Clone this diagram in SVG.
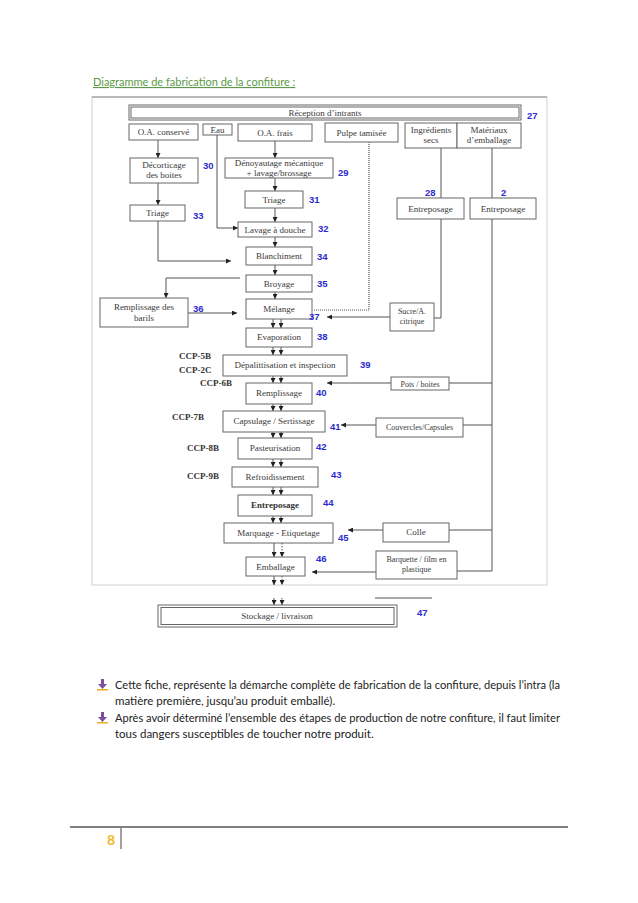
<svg xmlns="http://www.w3.org/2000/svg" width="638" height="903" viewBox="0 0 638 903">
<style>
.bx{fill:#fff;stroke:#666;stroke-width:1}
.t{font-family:"Liberation Serif",serif;font-size:9px;fill:#3a3a3a;text-anchor:middle}
.s{font-size:8px}
.tb{font-family:"Liberation Serif",serif;font-size:9px;fill:#333;text-anchor:middle;font-weight:bold}
.ccp{font-family:"Liberation Serif",serif;font-size:9px;fill:#333;font-weight:bold}
.n{font-family:"Liberation Sans",sans-serif;font-size:9.5px;fill:#2b2bd0;font-weight:bold}
.ln{fill:none;stroke:#555;stroke-width:1}
.ar{fill:none;stroke:#555;stroke-width:1;marker-end:url(#ah)}
.dot{fill:none;stroke:#555;stroke-width:1.2;stroke-dasharray:1 1}
.body{font-family:Lato,"Open Sans",sans-serif;font-size:11.5px;fill:#222}
</style>
<defs>
<marker id="ah" markerUnits="userSpaceOnUse" markerWidth="5" markerHeight="5" refX="5" refY="2.5" orient="auto">
<path d="M0,0 L5,2.5 L0,5 z" fill="#222"/>
</marker>
</defs>
<rect width="638" height="903" fill="#fff"/>
<text x="93" y="86" font-family="Lato,'Open Sans',sans-serif" font-size="11px" fill="#5b9a47" text-decoration="underline">Diagramme de fabrication de la confiture :</text>
<rect x="92" y="97" width="455" height="488" fill="none" stroke="#cfcfcf" stroke-width="1"/>
<line x1="92" y1="97" x2="547" y2="97" stroke="#aaa" stroke-width="1.5"/>

<g id="connectors">
<path class="ar" d="M158,140 V158"/>
<path class="ar" d="M158,183 V205"/>
<path class="ar" d="M275,141 V158"/>
<path class="ar" d="M275,178 V191"/>
<path class="ar" d="M275,208 V222"/>
<path class="ar" d="M217,135 V228 H238"/>
<path class="ar" d="M158,221 V261 H231"/>
<path class="ar" d="M275,237 V247"/>
<path class="ar" d="M275,265 V275"/>
<path class="ar" d="M240,278 H166 V298"/>
<path class="ar" d="M188,313 H237"/>
<path class="ar" d="M275,292 V299"/>
<path class="dot" d="M369,142 V310 H313"/>
<path class="ln" d="M441,148 V198"/>
<path class="ln" d="M492,148 V198"/>
<path class="ln" d="M441,219 V318 H434"/>
<path class="ln" d="M492,219 V571 H457"/>
<path class="ar" d="M390,317 H327"/>
<path class="ar" d="M273,319 V328"/><path class="ar" d="M281,319 V328"/>
<path class="ar" d="M273,347 V355"/><path class="ar" d="M281,347 V355"/>
<path class="ar" d="M273,376 V383"/><path class="ar" d="M281,376 V383"/>
<path class="ar" d="M273,404 V411"/><path class="ar" d="M281,404 V411"/>
<path class="ar" d="M273,432 V438"/><path class="ar" d="M281,432 V438"/>
<path class="ar" d="M273,459 V467"/><path class="ar" d="M281,459 V467"/>
<path class="ar" d="M273,487 V495"/><path class="ar" d="M281,487 V495"/>
<path class="ar" d="M273,516 V523"/><path class="ar" d="M281,516 V523"/>
<path class="ar" d="M274,543 V557"/><path class="ar" d="M282,543 V557" stroke-dasharray="1.5 1.5"/>
<path class="ar" d="M274,576 V585"/><path class="ar" d="M282,576 V585" stroke-dasharray="1.5 1.5"/>
<path class="ar" d="M274,598 V605"/><path class="ar" d="M282,598 V605" stroke-dasharray="1.5 1.5"/>
<path class="ln" d="M449,383 H492"/>
<path class="ar" d="M391,383 H327"/>
<path class="ln" d="M463,425 H492"/>
<path class="ar" d="M376,425 H341"/>
<path class="ln" d="M449,530 H492"/>
<path class="ar" d="M383,530 H348"/>
<path class="ar" d="M376,572 H312"/>
<path class="ln" d="M375,598 H432"/>
</g>

<g id="reception"><rect class="bx" x="129" y="105" width="392" height="15"/><rect class="bx" x="131" y="107" width="388" height="11"/><text class="t" x="325" y="115.5">Réception d’intrants</text><text class="n" x="527" y="119">27</text></g>
<g id="oa-conserve"><rect class="bx" x="129" y="124" width="69" height="16"/><text class="t" x="163.5" y="135">O.A. conservé</text></g>
<g id="eau"><rect class="bx" x="203" y="124" width="29" height="11"/><text class="t" x="217.5" y="132.5">Eau</text></g>
<g id="oa-frais"><rect class="bx" x="238" y="124" width="74" height="17"/><text class="t" x="275" y="135.5">O.A. frais</text></g>
<g id="pulpe"><rect class="bx" x="325" y="123" width="73" height="19"/><text class="t" x="361.5" y="135.5">Pulpe tamisée</text></g>
<g id="ingredients"><rect class="bx" x="405" y="123" width="52" height="25"/><text class="t" x="431" y="133">Ingrédients</text><text class="t" x="431" y="143">secs</text></g>
<g id="materiaux"><rect class="bx" x="457" y="123" width="64" height="25"/><text class="t" x="489" y="133">Matériaux</text><text class="t" x="489" y="143">d’emballage</text></g>
<g id="decorticage"><rect class="bx" x="130" y="158" width="68" height="25"/><text class="t" x="164" y="168">Décorticage</text><text class="t" x="164" y="178">des boites</text><text class="n" x="203" y="169">30</text></g>
<g id="denoyautage"><rect class="bx" x="225" y="158" width="108" height="20"/><text class="t" x="279" y="166">Dénoyautage mécanique</text><text class="t" x="279" y="175.5">+ lavage/brossage</text><text class="n" x="338" y="176">29</text></g>
<g id="triage31"><rect class="bx" x="245" y="191" width="58" height="17"/><text class="t" x="274" y="202.5">Triage</text><text class="n" x="309" y="203">31</text></g>
<g id="triage33"><rect class="bx" x="130" y="205" width="55" height="16"/><text class="t" x="157.5" y="216">Triage</text><text class="n" x="193" y="219">33</text></g>
<g id="entreposage28"><rect class="bx" x="397" y="198" width="67" height="21"/><text class="t" x="430.5" y="211.5">Entreposage</text><text class="n" x="425" y="196">28</text></g>
<g id="entreposage2"><rect class="bx" x="470" y="198" width="66" height="21"/><text class="t" x="503" y="211.5">Entreposage</text><text class="n" x="501" y="196">2</text></g>
<g id="lavage"><rect class="bx" x="238" y="222" width="74" height="15"/><text class="t" x="275" y="232.5">Lavage à douche</text><text class="n" x="318" y="232">32</text></g>
<g id="blanchiment"><rect class="bx" x="246" y="247" width="66" height="18"/><text class="t" x="279" y="259">Blanchiment</text><text class="n" x="317" y="260">34</text></g>
<g id="broyage"><rect class="bx" x="246" y="275" width="66" height="17"/><text class="t" x="279" y="287">Broyage</text><text class="n" x="317" y="287">35</text></g>
<g id="remplissage-barils"><rect class="bx" x="100" y="298" width="88" height="29"/><text class="t" x="144" y="309.5">Remplissage des</text><text class="t" x="144" y="320.5">barils</text><text class="n" x="193" y="312">36</text></g>
<g id="melange"><rect class="bx" x="246" y="299" width="66" height="20"/><text class="t" x="279" y="311.5">Mélange</text><text class="n" x="309" y="320">37</text></g>
<g id="sucre"><rect class="bx" x="390" y="303" width="44" height="28"/><text class="t s" x="412" y="314">Sucre/A.</text><text class="t s" x="412" y="324">citrique</text></g>
<g id="evaporation"><rect class="bx" x="246" y="328" width="66" height="19"/><text class="t" x="279" y="340">Evaporation</text><text class="n" x="317" y="340">38</text></g>
<g id="depalittisation"><rect class="bx" x="223" y="355" width="124" height="21"/><text class="t" x="285" y="368">Dépalittisation et inspection</text><text class="n" x="360" y="368">39</text><text class="ccp" x="179" y="359">CCP-5B</text><text class="ccp" x="179" y="373">CCP-2C</text></g>
<g id="remplissage"><rect class="bx" x="246" y="383" width="66" height="21"/><text class="t" x="279" y="396">Remplissage</text><text class="n" x="316" y="396">40</text><text class="ccp" x="200" y="386">CCP-6B</text></g>
<g id="pots"><rect class="bx" x="391" y="377" width="58" height="13"/><text class="t s" x="420" y="386.5">Pots / boites</text></g>
<g id="capsulage"><rect class="bx" x="223" y="411" width="102" height="21"/><text class="t" x="274" y="424">Capsulage / Sertissage</text><text class="n" x="330" y="430">41</text><text class="ccp" x="172" y="420">CCP-7B</text></g>
<g id="couvercles"><rect class="bx" x="376" y="418" width="87" height="19"/><text class="t s" x="419.5" y="430">Couvercles/Capsules</text></g>
<g id="pasteurisation"><rect class="bx" x="238" y="438" width="74" height="21"/><text class="t" x="275" y="451">Pasteurisation</text><text class="n" x="316" y="450">42</text><text class="ccp" x="187" y="451">CCP-8B</text></g>
<g id="refroidissement"><rect class="bx" x="232" y="467" width="86" height="20"/><text class="t" x="275" y="480">Refroidissement</text><text class="n" x="331" y="478">43</text><text class="ccp" x="187" y="479">CCP-9B</text></g>
<g id="entreposage44"><rect class="bx" x="238" y="495" width="74" height="21"/><text class="tb" x="275" y="508">Entreposage</text><text class="n" x="323" y="506">44</text></g>
<g id="marquage"><rect class="bx" x="224" y="523" width="109" height="20"/><text class="t" x="278.5" y="536">Marquage - Etiquetage</text><text class="n" x="338" y="541">45</text></g>
<g id="colle"><rect class="bx" x="383" y="523" width="66" height="19"/><text class="t" x="416" y="535">Colle</text></g>
<g id="emballage"><rect class="bx" x="246" y="557" width="59" height="19"/><text class="t" x="275.5" y="569.5">Emballage</text><text class="n" x="316" y="562">46</text></g>
<g id="barquette"><rect class="bx" x="376" y="551" width="81" height="28"/><text class="t s" x="416.5" y="562">Barquette / film en</text><text class="t s" x="416.5" y="572">plastique</text></g>
<g id="stockage"><rect class="bx" x="158" y="605" width="239" height="22"/><rect class="bx" x="161" y="607.5" width="233" height="17"/><text class="t" x="277" y="619">Stockage / livraison</text><text class="n" x="417" y="616">47</text></g>

<g id="bullets">
<path d="M101,679 h3 v5 h3 l-4.5,5 l-4.5,-5 h3 z" fill="#7a4fa0"/><rect x="97" y="689" width="11" height="1.5" fill="#e8b020"/>
<path d="M101,712 h3 v5 h3 l-4.5,5 l-4.5,-5 h3 z" fill="#7a4fa0"/><rect x="97" y="722" width="11" height="1.5" fill="#e8b020"/>
<text class="body" x="115" y="689" textLength="445" lengthAdjust="spacingAndGlyphs">Cette fiche, représente la démarche complète de fabrication de la confiture, depuis l’intra (la</text>
<text class="body" x="115" y="705">matière première, jusqu’au produit emballé).</text>
<text class="body" x="115" y="722" textLength="445" lengthAdjust="spacingAndGlyphs">Après avoir déterminé l’ensemble des étapes de production de notre confiture, il faut limiter</text>
<text class="body" x="115" y="738">tous dangers susceptibles de toucher notre produit.</text>
</g>
<g id="footer">
<line x1="70" y1="827" x2="568" y2="827" stroke="#808080" stroke-width="2"/>
<line x1="121" y1="827" x2="121" y2="849" stroke="#808080" stroke-width="1.5"/>
<text x="111" y="845" font-family="Lato,'Open Sans',sans-serif" font-size="14px" font-weight="bold" fill="#f0b828" text-anchor="middle">8</text>
</g>
</svg>
